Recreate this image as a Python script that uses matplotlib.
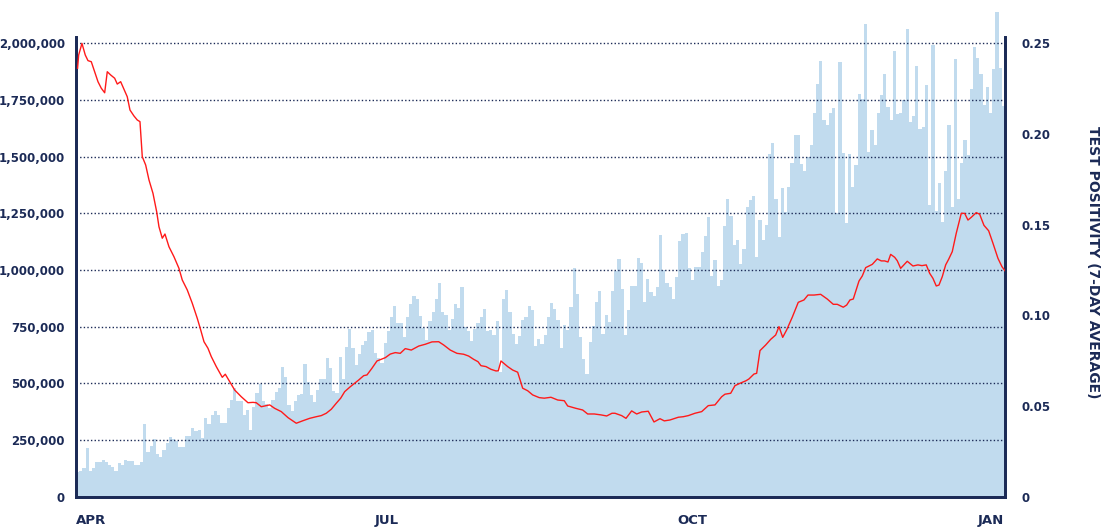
import matplotlib.pyplot as plt
from matplotlib.ticker import FuncFormatter

# daily tests (thousands)
tests_k = [
    # apr - early may
    111, 116, 129, 217, 114, 127, 154, 154, 163, 152, 139, 132, 116, 148, 141, 165,
    158, 158, 139, 139, 156, 320, 198, 224, 257, 189, 178, 207, 239, 263, 255, 245,
    222, 219, 270, 270, 302, 292, 296, 261, 349, 321,
    # may - jun
    363, 379, 360, 327, 327, 392, 426, 480, 421, 421, 363, 383, 295, 396, 457, 499,
    423, 408, 391, 429, 461, 480, 573, 529, 405, 379, 423, 449, 452, 586, 508, 449,
    418, 470, 521, 521, 612, 568, 467, 457, 617, 520,
    # jun - jul
    661, 740, 656, 580, 630, 668, 689, 727, 734, 636, 611, 592, 678, 731, 792, 843,
    765, 765, 705, 792, 850, 884, 872, 799, 746, 690, 775, 815, 872, 943, 815, 802,
    736, 784, 850, 833, 925, 749, 731, 689, 740,
    # aug
    765, 794, 829, 730, 737, 715, 775, 549, 872, 910, 815, 718, 675, 709, 780, 793,
    840, 825, 666, 696, 674, 714, 792, 855, 829, 780, 655, 756, 737, 838, 1007, 893,
    705, 608, 540, 683, 753, 859, 909, 718, 800, 771,
    # sep - oct
    906, 997, 1048, 916, 715, 822, 931, 928, 1051, 1032, 858, 962, 902, 887, 925, 1153,
    999, 941, 925, 871, 969, 1128, 1159, 1164, 1007, 956, 1012, 1012, 1078, 1150, 1235, 974,
    1044, 929, 955, 1195, 1312, 1238, 1110, 1131, 1025, 1092,
    # oct - nov
    1276, 1308, 1324, 1056, 1220, 1132, 1197, 1511, 1558, 1314, 1147, 1363, 1256, 1367, 1471, 1593,
    1596, 1466, 1437, 1499, 1549, 1692, 1819, 1922, 1661, 1640, 1690, 1714, 1250, 1915, 1514, 1208,
    1511, 1364, 1463, 1774, 1752, 2084, 1520, 1617, 1549, 1690,
    # dec - jan
    1770, 1863, 1719, 1661, 1965, 1686, 1690, 1749, 2060, 1653, 1679, 1899, 1621, 1631, 1815, 1288,
    1990, 1261, 1383, 1213, 1437, 1637, 1276, 1931, 1314, 1470, 1573, 1505, 1796, 1984, 1934, 1863,
    1728, 1805, 1692, 1885, 2137, 1890, 1722,
]

# 7-day positivity, sampled along the same day index as the bars
pos_day = [
    0, 0.34, 1.37, 2.40, 3.25, 4.28, 5.34, 6.37, 7.40, 8.46, 9.27, 10.33, 11.58, 12.39, 13.45, 14.48,
    15.51, 16.36, 17.61, 18.64, 19.48, 20.20, 21.26, 22.29, 23.54, 24.69, 25.41, 26.44, 27.28, 28.53,
    30.09, 31.65, 32.68, 34.24, 35.80, 37.36, 38.43, 39.46, 40.70, 41.74, 43.30, 45.17, 46.11, 47.48,
    49.04, 51.10, 53.19, 54.75, 55.78, 57.34, 59.97, 61.53, 63.59, 65.68, 68.27, 70.36, 72.45, 74.51,
    76.07, 77.63, 79.19, 80.75, 82.13, 83.38, 85.12, 87.75, 89.31, 90.34, 91.90, 93.46, 96.05, 97.61,
    99.17, 100.73, 102.29, 104.17, 106.48, 108.54, 110.63, 112.72, 114.28, 116.34, 118.43, 120.52,
    122.08, 123.64, 124.99, 125.92, 127.48, 129.05, 130.61, 131.33, 132.17, 134.26, 135.82, 137.38,
    138.94, 140.50, 142.06, 144.12, 145.68, 147.77, 149.87, 151.93, 152.99, 155.58, 157.67, 159.23,
    161.29, 163.38, 165.16, 166.82, 167.75, 169.84, 171.19, 172.96, 174.53, 176.09, 178.15, 179.93,
    181.80, 183.15, 184.93, 187.52, 189.08, 190.64, 192.73, 194.82, 196.88, 198.97, 201.06, 202.09,
    203.87, 205.21, 206.77, 208.65, 209.58, 211.14, 211.98, 213.02, 214.80, 216.36, 217.92, 218.95,
    220.11, 221.35, 223.10, 224.97, 226.75, 228.00, 229.87, 231.96, 234.02, 235.90, 237.14, 239.02,
    240.08, 241.11, 242.14, 243.92, 244.95, 246.01, 248.07, 249.63, 250.88, 251.94, 252.97, 253.81,
    255.06, 255.87, 256.93, 258.99, 260.77, 262.33, 263.58, 264.92, 265.98, 267.01, 268.04, 268.89,
    269.92, 270.98, 271.91, 273.04, 274.28, 275.85, 276.91, 277.94, 278.97, 280.53, 281.59, 282.93,
    284.40, 285.75, 287.31, 288.56, 289.5,
]
pos_val = [
    0.2361, 0.2434, 0.2498, 0.2434, 0.2403, 0.2397, 0.2342, 0.2287, 0.2251, 0.2226, 0.2342, 0.2324,
    0.2306, 0.2274, 0.2287, 0.2245, 0.2204, 0.2131, 0.2098, 0.2076, 0.2067, 0.1874, 0.1828, 0.1746,
    0.1672, 0.1571, 0.1488, 0.1425, 0.1448, 0.1378, 0.1323, 0.1259, 0.1195, 0.1140, 0.1067, 0.0984,
    0.0920, 0.0855, 0.0819, 0.0773, 0.0718, 0.0659, 0.0676, 0.0635, 0.0589, 0.0552, 0.0519, 0.0521,
    0.0519, 0.0497, 0.0507, 0.0488, 0.0470, 0.0437, 0.0406, 0.0420, 0.0433, 0.0442, 0.0448, 0.0461,
    0.0483, 0.0516, 0.0544, 0.0580, 0.0607, 0.0644, 0.0668, 0.0672, 0.0709, 0.0749, 0.0767, 0.0787,
    0.0795, 0.0791, 0.0817, 0.0809, 0.0831, 0.0841, 0.0854, 0.0855, 0.0837, 0.0809, 0.0791, 0.0786,
    0.0776, 0.0758, 0.0745, 0.0723, 0.0718, 0.0703, 0.0694, 0.0695, 0.0749, 0.0718, 0.0699, 0.0687,
    0.0599, 0.0585, 0.0562, 0.0547, 0.0544, 0.0549, 0.0534, 0.0530, 0.0501, 0.0488, 0.0479, 0.0457,
    0.0457, 0.0452, 0.0446, 0.0461, 0.0461, 0.0448, 0.0433, 0.0474, 0.0457, 0.0468, 0.0472, 0.0413,
    0.0431, 0.0419, 0.0424, 0.0439, 0.0442, 0.0448, 0.0461, 0.0470, 0.0503, 0.0507, 0.0552, 0.0566,
    0.0571, 0.0613, 0.0626, 0.0640, 0.0650, 0.0677, 0.0681, 0.0806, 0.0837, 0.0868, 0.0892, 0.0938,
    0.0879, 0.0920, 0.0990, 0.1072, 0.1085, 0.1112, 0.1112, 0.1116, 0.1090, 0.1061, 0.1061, 0.1045,
    0.1057, 0.1085, 0.1090, 0.1189, 0.1217, 0.1263, 0.1281, 0.1311, 0.1300, 0.1300, 0.1294, 0.1336,
    0.1320, 0.1301, 0.1259, 0.1298, 0.1272, 0.1278, 0.1274, 0.1278, 0.1232, 0.1204, 0.1162, 0.1167,
    0.1213, 0.1278, 0.1309, 0.1351, 0.1452, 0.1562, 0.1562, 0.1525, 0.1540, 0.1566, 0.1557, 0.1496,
    0.1466, 0.1397, 0.1314, 0.1268, 0.1246,
]

month_labels = ["APR", "JUL", "OCT", "JAN"]
month_pos = [-0.5, 96.6, 191.8, 285.1]

navy = "#1b2a56"
bar_blue = "#c1dbee"

fig = plt.figure(figsize=(11.01, 5.27), dpi=100)
ax = fig.add_axes([0.069, 0.057, 0.8438, 0.873])

days = list(range(len(tests_k)))
tests = [v * 1000 for v in tests_k]
bars = ax.bar(days, tests, width=1.0, color=bar_blue, linewidth=0, zorder=1)
for b in bars:
    b.set_clip_on(False)

ymax = 2027000
ax.set_ylim(0, ymax)
ax.set_xlim(-0.5, len(tests_k) - 0.5)
ax.set_yticks(range(0, 2000001, 250000))
ax.yaxis.set_major_formatter(FuncFormatter(lambda v, p: f"{int(v):,}"))
ax.grid(axis="y", color=navy, linestyle=(0, (1, 1.6)), linewidth=1.0, zorder=2)
ax.set_axisbelow(False)

ax.set_xticks(month_pos)
ax.set_xticklabels(month_labels)
ax.get_xticklabels()[0].set_ha("left")

ax2 = ax.twinx()
ax2.set_ylim(0, ymax / 8e6)
ax2.set_yticks([0, 0.05, 0.10, 0.15, 0.20, 0.25])
ax2.yaxis.set_major_formatter(FuncFormatter(lambda v, p: "0" if v == 0 else f"{v:.2f}"))
ax2.plot(pos_day, pos_val, color="#ff1a1a", linewidth=1.0, zorder=3)

fig.text(1093 / 1101, 1 - 262 / 527, "TEST POSITIVITY (7-DAY AVERAGE)", rotation=-90,
         ha="center", va="center", fontsize=10, fontweight="bold", color=navy)

for a in (ax, ax2):
    a.spines["top"].set_visible(False)
    for s in ("left", "right", "bottom"):
        a.spines[s].set_color(navy)
        a.spines[s].set_linewidth(2)

ax.tick_params(axis="y", length=0, pad=8, labelsize=8.5, labelcolor=navy)
ax.tick_params(axis="x", length=0, pad=12, labelsize=9.5, labelcolor=navy)
ax2.tick_params(axis="y", length=0, pad=12, labelsize=8.5, labelcolor=navy)
for lab in ax.get_yticklabels() + ax.get_xticklabels() + ax2.get_yticklabels():
    lab.set_fontweight("bold")

fig.savefig("out.png", dpi=100)
